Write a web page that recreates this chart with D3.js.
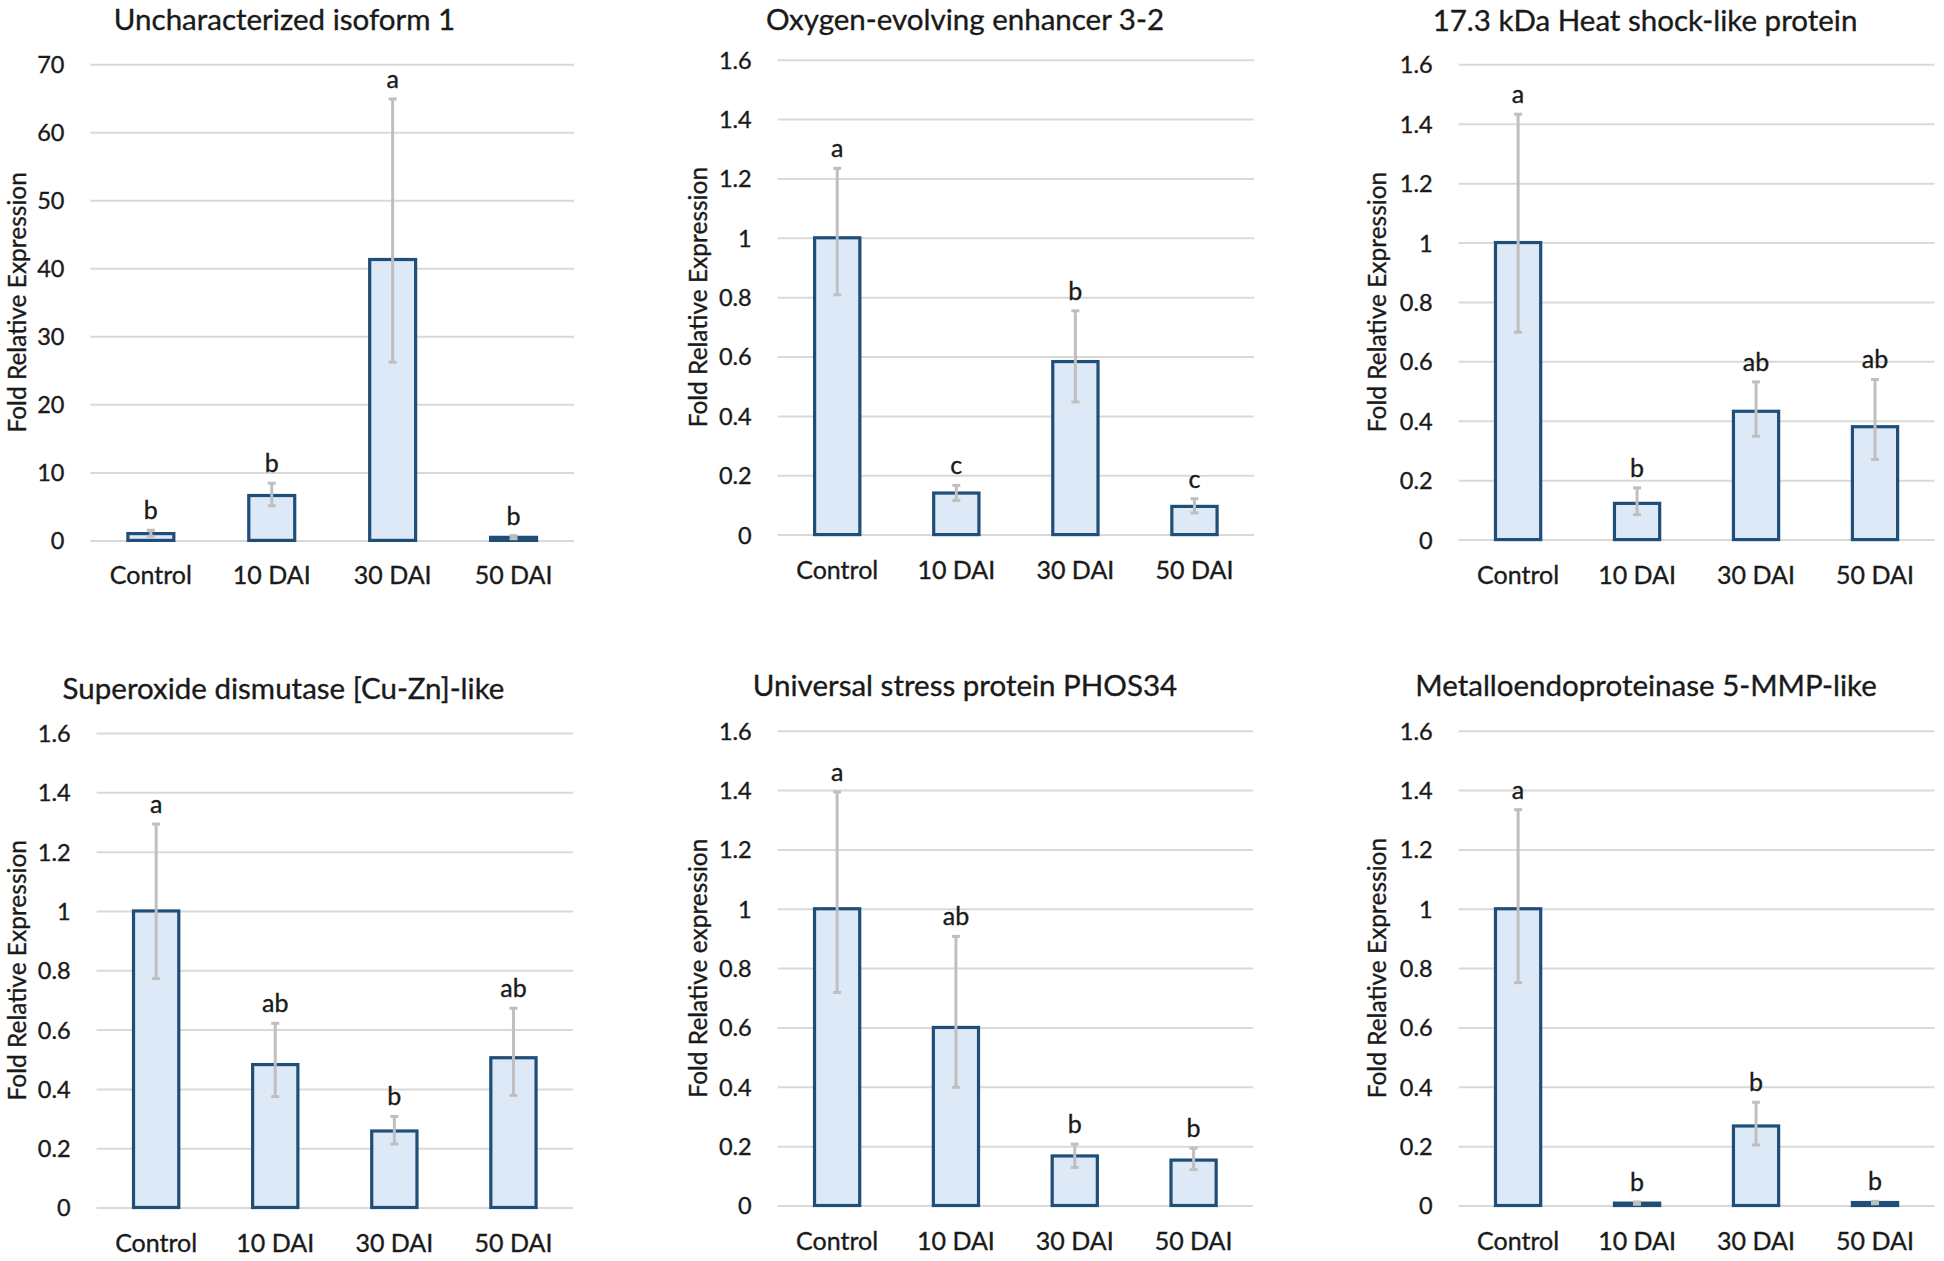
<!DOCTYPE html>
<html>
<head>
<meta charset="utf-8">
<script src="https://cdn.jsdelivr.net/npm/d3@7"></script>
<style>
  html, body { margin: 0; padding: 0; background: #ffffff; }
  svg { display: block; }
  text { font-family: Lato, "Open Sans", sans-serif; fill: #1a1a1a; stroke: #1a1a1a; stroke-width: 0.35px; }
</style>
</head>
<body>
<svg id="chart" width="1944" height="1261"></svg>
<script>
// ---------------- DATA ----------------
const categories = ["Control", "10 DAI", "30 DAI", "50 DAI"];

const titles = [
  "Uncharacterized isoform 1",
  "Oxygen-evolving enhancer 3-2",
  "17.3 kDa Heat shock-like protein",
  "Superoxide dismutase [Cu-Zn]-like",
  "Universal stress protein PHOS34",
  "Metalloendoproteinase 5-MMP-like"
];

const yAxisTitles = [
  "Fold Relative Expression",
  "Fold Relative Expression",
  "Fold Relative Expression",
  "Fold Relative Expression",
  "Fold Relative expression",
  "Fold Relative Expression"
];

const yMaxima = [70, 1.6, 1.6, 1.6, 1.6, 1.6];
const tickValues70 = [0, 10, 20, 30, 40, 50, 60, 70];
const tickValues16 = [0, 0.2, 0.4, 0.6, 0.8, 1, 1.2, 1.4, 1.6];
const tickLabels70 = ["0", "10", "20", "30", "40", "50", "60", "70"];
const tickLabels16 = ["0", "0.2", "0.4", "0.6", "0.8", "1", "1.2", "1.4", "1.6"];

// means
const meansUncharacterized = [1.0, 6.6, 41.3, 0.45];
const meansOxygen          = [1.0, 0.14, 0.583, 0.095];
const meansHeatShock       = [1.0, 0.122, 0.432, 0.38];
const meansSuperoxide      = [1.0, 0.482, 0.258, 0.505];
const meansUniversal       = [1.0, 0.60, 0.167, 0.153];
const meansMetallo         = [1.0, 0.008, 0.268, 0.01];

// error bar upper / lower ends
const upperUncharacterized = [1.5, 8.4, 64.9, 0.7];
const lowerUncharacterized = [0.6, 5.1, 26.2, 0.25];
const upperOxygen          = [1.234, 0.166, 0.754, 0.121];
const lowerOxygen          = [0.808, 0.115, 0.447, 0.073];
const upperHeatShock       = [1.432, 0.174, 0.531, 0.539];
const lowerHeatShock       = [0.698, 0.084, 0.348, 0.27];
const upperSuperoxide      = [1.293, 0.621, 0.307, 0.672];
const lowerSuperoxide      = [0.772, 0.374, 0.214, 0.378];
const upperUniversal       = [1.394, 0.907, 0.207, 0.193];
const lowerUniversal       = [0.718, 0.398, 0.128, 0.121];
const upperMetallo         = [1.334, 0.012, 0.348, 0.014];
const lowerMetallo         = [0.751, 0.004, 0.204, 0.006];

// significance letters
const lettersUncharacterized = ["b", "b", "a", "b"];
const lettersOxygen          = ["a", "c", "b", "c"];
const lettersHeatShock       = ["a", "b", "ab", "ab"];
const lettersSuperoxide      = ["a", "ab", "b", "ab"];
const lettersUniversal       = ["a", "ab", "b", "b"];
const lettersMetallo         = ["a", "b", "b", "b"];

const panelMeans   = [meansUncharacterized, meansOxygen, meansHeatShock, meansSuperoxide, meansUniversal, meansMetallo];
const panelUpper   = [upperUncharacterized, upperOxygen, upperHeatShock, upperSuperoxide, upperUniversal, upperMetallo];
const panelLower   = [lowerUncharacterized, lowerOxygen, lowerHeatShock, lowerSuperoxide, lowerUniversal, lowerMetallo];
const panelLetters = [lettersUncharacterized, lettersOxygen, lettersHeatShock, lettersSuperoxide, lettersUniversal, lettersMetallo];

// ---------------- LAYOUT ----------------
const plotRects = [
  { x0: 90.4,   x1: 574,    y0: 64.3,  y1: 540.4,  titleX: 284.5, titleY: 19.5,  yTitleX: 17.4 },
  { x0: 777.7,  x1: 1254,   y0: 59.7,  y1: 534.6,  titleX: 965,   titleY: 19.5,  yTitleX: 697.7 },
  { x0: 1458.6, x1: 1934.5, y0: 64.3,  y1: 539.6,  titleX: 1645,  titleY: 20,    yTitleX: 1377 },
  { x0: 96.6,   x1: 573,    y0: 733,   y1: 1207.5, titleX: 283.5, titleY: 688.3, yTitleX: 17.4 },
  { x0: 777.7,  x1: 1253,   y0: 730.7, y1: 1205.5, titleX: 965,   titleY: 685.5, yTitleX: 697.7 },
  { x0: 1458.6, x1: 1934.5, y0: 730.7, y1: 1205.5, titleX: 1646,  titleY: 685.5, yTitleX: 1377 }
];

const svg = d3.select("#chart");

plotRects.forEach((r, i) => {
  const w = r.x1 - r.x0, h = r.y1 - r.y0;
  const g = svg.append("g").attr("transform", `translate(${r.x0},${r.y0})`);

  const x = d3.scaleBand().domain(categories).range([0, w]).paddingInner(0.62).paddingOuter(0.31);
  const y = d3.scaleLinear().domain([0, yMaxima[i]]).range([h, 0]);

  const ticks = yMaxima[i] === 70 ? tickValues70 : tickValues16;
  const labels = yMaxima[i] === 70 ? tickLabels70 : tickLabels16;

  // y axis with gridlines
  const yAxis = d3.axisLeft(y).tickValues(ticks)
    .tickFormat((d, k) => labels[k])
    .tickSize(-w).tickPadding(26);
  const ya = g.append("g").call(yAxis);
  ya.select(".domain").remove();
  ya.selectAll(".tick line").attr("stroke", "#d9d9d9").attr("stroke-width", 2);
  ya.selectAll(".tick text")
    .attr("font-size", 23.5).attr("fill", "#1a1a1a")
    .style("font-family", "Lato, sans-serif")
    .attr("dy", "0.36em");

  // x axis labels
  const xAxis = d3.axisBottom(x).tickSize(0).tickPadding(0);
  const xa = g.append("g").attr("transform", `translate(0,${h})`).call(xAxis);
  xa.select(".domain").remove();
  xa.selectAll(".tick text")
    .attr("font-size", 25).attr("fill", "#1a1a1a")
    .style("font-family", "Lato, sans-serif")
    .attr("y", 35).attr("dy", "0.36em");

  const rows = categories.map((c, k) => ({
    c, v: panelMeans[i][k], hi: panelUpper[i][k], lo: panelLower[i][k], L: panelLetters[i][k]
  }));

  // bars
  g.selectAll("rect.bar").data(rows).enter().append("rect")
    .attr("class", "bar")
    .attr("x", d => x(d.c))
    .attr("width", x.bandwidth())
    .attr("y", d => y(d.v))
    .attr("height", d => Math.max(0, h - y(d.v)))
    .attr("fill", "#dde9f6")
    .attr("stroke", "#1f4e79")
    .attr("stroke-width", 3.2);

  // error bars
  const cx = d => x(d.c) + x.bandwidth() / 2;
  const eb = g.selectAll("g.err").data(rows).enter().append("g").attr("class", "err");
  eb.append("line")
    .attr("x1", cx).attr("x2", cx)
    .attr("y1", d => y(d.hi)).attr("y2", d => y(d.lo))
    .attr("stroke", "#bfbfbf").attr("stroke-width", 3);
  eb.append("line")
    .attr("x1", d => cx(d) - 4).attr("x2", d => cx(d) + 4)
    .attr("y1", d => y(d.hi)).attr("y2", d => y(d.hi))
    .attr("stroke", "#bfbfbf").attr("stroke-width", 3);
  eb.append("line")
    .attr("x1", d => cx(d) - 4).attr("x2", d => cx(d) + 4)
    .attr("y1", d => y(d.lo)).attr("y2", d => y(d.lo))
    .attr("stroke", "#bfbfbf").attr("stroke-width", 3);

  // letters
  g.selectAll("text.letter").data(rows).enter().append("text")
    .attr("class", "letter")
    .attr("x", cx)
    .attr("y", d => y(d.hi) - 11)
    .attr("text-anchor", "middle")
    .attr("font-size", 25)
    .text(d => d.L);

  // title
  svg.append("text")
    .attr("x", r.titleX).attr("y", r.titleY)
    .attr("dy", "0.36em")
    .attr("text-anchor", "middle")
    .attr("font-size", 29.5)
    .text(titles[i]);

  // y axis title
  svg.append("text")
    .attr("transform", `translate(${r.yTitleX},${(r.y0 + r.y1) / 2}) rotate(-90)`)
    .attr("dy", "0.36em")
    .attr("text-anchor", "middle")
    .attr("font-size", 24.5)
    .text(yAxisTitles[i]);
});
</script>
</body>
</html>
